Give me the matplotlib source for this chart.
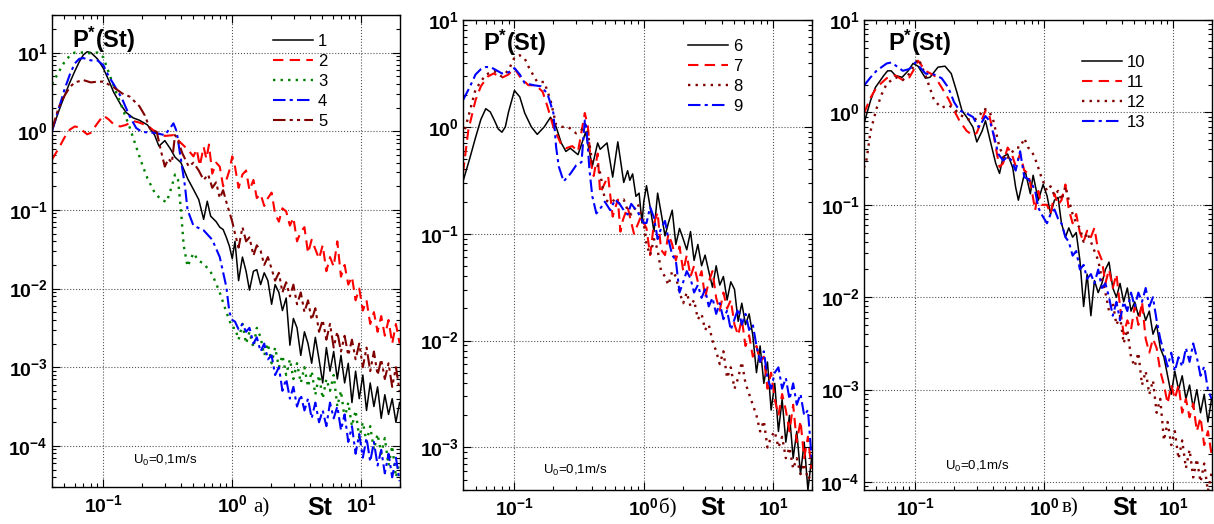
import numpy as np
import matplotlib
matplotlib.use('Agg')
import matplotlib.pyplot as plt
from matplotlib.ticker import LogLocator, NullFormatter

plt.rcParams['font.family'] = ['Liberation Sans', 'DejaVu Sans']
plt.rcParams['mathtext.fontset'] = 'custom'
plt.rcParams['mathtext.rm'] = 'Liberation Sans'
plt.rcParams['mathtext.bf'] = 'Liberation Sans:bold'
plt.rcParams['mathtext.it'] = 'Liberation Sans:italic'

# ---- data: St values and log10(P*) ----
# shared St grid for the noisy high-frequency part
st_hi = [1.05, 1.12, 1.2, 1.28, 1.36, 1.46, 1.55, 1.66, 1.77, 1.89, 2.02, 2.15, 2.3, 2.45, 2.62,
         2.8, 2.98, 3.18, 3.4, 3.63, 3.87, 4.13, 4.41, 4.71, 5.03, 5.37, 5.73, 6.12, 6.53, 6.97,
         7.44, 7.94, 8.48, 9.05, 9.66, 10.3, 11.0, 11.75, 12.55, 13.4, 14.3, 15.25, 16.3, 17.4,
         18.6, 19.85]

# panel a
c1_st_lo = [0.04, 0.045, 0.05, 0.055, 0.06, 0.065, 0.07, 0.075, 0.08, 0.09, 0.1, 0.11, 0.12, 0.135, 0.15,
            0.17, 0.19, 0.22, 0.25, 0.27, 0.3, 0.33, 0.36, 0.4, 0.45, 0.5, 0.55, 0.6, 0.64, 0.68, 0.75,
            0.8, 0.85, 0.9, 0.95, 1.0]
c1_lg_lo = [0.0, 0.25, 0.45, 0.62, 0.76, 0.88, 0.97, 1.01, 1.0, 0.92, 0.8, 0.65, 0.5, 0.35, 0.24,
            0.17, 0.14, 0.08, -0.05, -0.19, -0.12, -0.22, -0.33, -0.40, -0.6, -0.74, -0.87, -1.12, -0.89, -1.08, -1.15,
            -1.22, -1.25, -1.35, -1.46, -1.62]
c1_lg_hi = [-1.40, -1.90, -1.60, -1.78, -2.02, -1.78, -1.76, -1.95, -1.80, -1.90,
            -2.20, -1.95, -2.05, -2.28, -2.12, -2.72, -2.38, -2.50, -2.85, -2.55,
            -2.70, -2.95, -2.62, -2.90, -3.20, -2.75, -3.05, -2.80, -3.15, -2.85,
            -3.20, -2.95, -3.45, -3.05, -3.40, -3.10, -3.55, -3.20, -3.50, -3.25,
            -3.65, -3.35, -3.60, -3.40, -3.70, -3.45]

c2_st_lo = [0.04, 0.045, 0.05, 0.055, 0.06, 0.065, 0.07, 0.075, 0.08, 0.09, 0.1, 0.11, 0.12, 0.135, 0.15,
            0.17, 0.19, 0.22, 0.25, 0.28, 0.3, 0.35, 0.4, 0.45, 0.5, 0.53, 0.56, 0.6, 0.63, 0.66, 0.7,
            0.75, 0.8, 0.85, 0.9, 0.95, 1.0]
c2_lg_lo = [-0.36, -0.22, -0.08, 0.02, 0.06, 0.05, 0.0, -0.04, -0.02, 0.1, 0.2, 0.15, 0.09, 0.06, 0.08,
            0.13, 0.11, 0.07, 0.0, -0.04, -0.06, -0.05, -0.15, -0.23, -0.32, -0.23, -0.44, -0.2, -0.35, -0.17, -0.54,
            -0.4, -0.45, -0.7, -0.62, -0.5, -0.32]
c2_lg_hi = [-0.45, -0.72, -0.55, -0.50, -0.75, -0.62, -0.85, -0.80, -0.95, -0.85,
            -0.78, -1.05, -1.15, -0.98, -1.02, -1.20, -1.10, -1.40, -1.28, -1.22,
            -1.55, -1.38, -1.50, -1.62, -1.45, -1.78, -1.60, -1.72, -1.40, -1.85,
            -1.70, -1.95, -1.85, -2.15, -2.00, -2.28, -2.15, -2.45, -2.30, -2.55,
            -2.35, -2.60, -2.40, -2.70, -2.45, -2.70]

c3_st_lo = [0.04, 0.045, 0.05, 0.055, 0.06, 0.07, 0.08, 0.09, 0.1, 0.11, 0.12, 0.14, 0.16, 0.18, 0.2,
            0.22, 0.25, 0.28, 0.31, 0.34, 0.36, 0.38, 0.4, 0.42, 0.45, 0.5, 0.55, 0.6, 0.7, 0.8, 0.9, 1.0]
c3_lg_lo = [0.6, 0.75, 0.88, 0.96, 1.0, 1.0, 0.99, 1.0, 0.94, 0.75, 0.58, 0.3, 0.05, -0.2, -0.42,
            -0.6, -0.78, -0.87, -0.9, -0.7, -0.55, -0.62, -1.0, -1.45, -1.72, -1.55, -1.65, -1.68, -1.82, -2.05, -2.3, -2.5]
c3_lg_hi = [-2.50, -2.65, -2.45, -2.70, -2.55, -2.75, -2.50, -2.62, -2.85, -2.70,
            -2.95, -2.75, -3.00, -2.85, -3.10, -2.90, -3.15, -2.95, -3.20, -3.00,
            -3.25, -3.05, -3.35, -3.10, -3.40, -3.15, -3.30, -3.10, -3.50, -3.30,
            -3.65, -3.45, -3.75, -3.55, -3.90, -3.70, -3.95, -3.75, -4.05, -3.85,
            -4.10, -3.90, -4.25, -4.00, -4.40, -4.20]

c4_st_lo = [0.04, 0.045, 0.05, 0.055, 0.06, 0.065, 0.07, 0.08, 0.09, 0.1, 0.11, 0.12, 0.14, 0.16, 0.18,
            0.2, 0.25, 0.3, 0.33, 0.35, 0.37, 0.4, 0.43, 0.45, 0.5, 0.6, 0.7, 0.8, 0.9, 0.95, 1.0]
c4_lg_lo = [0.0, 0.28, 0.53, 0.72, 0.86, 0.92, 0.93, 0.9, 0.9, 0.84, 0.7, 0.6, 0.41, 0.19, 0.04,
            -0.01, -0.02, -0.05, 0.04, 0.1, 0.0, -0.36, -0.7, -1.0, -1.2, -1.26, -1.38, -1.6, -1.98, -2.3, -2.4]
c4_lg_hi = [-2.42, -2.52, -2.45, -2.55, -2.50, -2.70, -2.62, -2.80, -2.70, -2.90,
            -2.85, -3.10, -3.00, -3.30, -3.15, -3.40, -3.25, -3.50, -3.35, -3.55,
            -3.40, -3.65, -3.45, -3.70, -3.55, -3.75, -3.45, -3.65, -3.50, -3.80,
            -3.60, -3.95, -3.75, -4.10, -3.85, -4.15, -3.90, -4.20, -3.95, -4.25,
            -4.05, -4.35, -4.10, -4.40, -4.15, -4.45]

c5_st_lo = [0.04, 0.045, 0.05, 0.055, 0.06, 0.07, 0.08, 0.09, 0.1, 0.12, 0.14, 0.16, 0.19, 0.21, 0.23,
            0.26, 0.28, 0.3, 0.32, 0.34, 0.36, 0.38, 0.41, 0.46, 0.5, 0.55, 0.6, 0.65, 0.7, 0.75, 0.8,
            0.85, 0.9, 1.0]
c5_lg_lo = [0.02, 0.3, 0.45, 0.56, 0.62, 0.65, 0.62, 0.63, 0.63, 0.56, 0.48, 0.44, 0.32, 0.2, 0.03,
            -0.01, -0.25, -0.45, -0.35, -0.4, -0.05, -0.12, -0.28, -0.45, -0.4, -0.5, -0.62, -0.55, -0.72, -0.65, -0.85,
            -0.75, -0.9, -1.15]
c5_lg_hi = [-1.30, -1.48, -1.22, -1.40, -1.35, -1.58, -1.45, -1.52, -1.70, -1.60,
            -1.75, -1.90, -1.80, -2.05, -1.92, -2.10, -1.95, -2.20, -2.05, -2.30,
            -2.15, -2.40, -2.25, -2.55, -2.40, -2.65, -2.45, -2.75, -2.55, -2.80,
            -2.60, -2.85, -2.65, -2.90, -2.70, -3.00, -2.75, -3.05, -2.80, -3.10,
            -2.90, -3.15, -2.95, -3.25, -3.00, -3.30]

# panel b
c6_st_lo = [0.04, 0.045, 0.05, 0.055, 0.06, 0.065, 0.07, 0.075, 0.08, 0.085, 0.09, 0.1, 0.11, 0.12, 0.135,
            0.15, 0.17, 0.19, 0.21, 0.23, 0.25, 0.27, 0.31, 0.355, 0.4, 0.44, 0.46, 0.52, 0.575, 0.63, 0.7,
            0.75, 0.78, 0.82, 0.87, 0.92, 0.97, 1.0]
c6_lg_lo = [-0.51, -0.3, -0.1, 0.07, 0.17, 0.14, 0.06, -0.02, -0.05, 0.0, 0.14, 0.34, 0.28, 0.13, 0.0,
            -0.07, 0.0, 0.09, 0.0, -0.15, -0.23, -0.2, -0.26, -0.05, -0.37, -0.15, -0.21, -0.15, -0.47, -0.14, -0.52,
            -0.41, -0.5, -0.44, -0.65, -0.62, -0.9, -0.7]
c6_lg_hi = [-0.55, -0.75, -0.98, -0.62, -0.80, -1.02, -0.90, -0.78, -1.10, -0.95,
            -1.05, -1.15, -0.98, -1.25, -1.10, -1.30, -1.20, -1.35, -1.50, -1.30,
            -1.48, -1.40, -1.62, -1.45, -1.52, -1.82, -1.65, -1.85, -1.75, -1.95,
            -2.30, -2.05, -2.40, -2.20, -2.65, -2.40, -2.85, -2.55, -2.95, -2.70,
            -3.10, -2.85, -3.25, -2.95, -3.40, -3.10]

c7_st_lo = [0.04, 0.044, 0.05, 0.055, 0.062, 0.069, 0.08, 0.09, 0.1, 0.11, 0.128, 0.146, 0.165, 0.18, 0.2,
            0.227, 0.25, 0.28, 0.31, 0.35, 0.37, 0.39, 0.41, 0.44, 0.46, 0.53, 0.575, 0.63, 0.66, 0.69, 0.75,
            0.84, 0.95, 1.0]
c7_lg_lo = [-0.43, -0.03, 0.25, 0.38, 0.47, 0.5, 0.46, 0.49, 0.55, 0.47, 0.39, 0.39, 0.33, 0.19, 0.0,
            -0.15, -0.2, -0.18, -0.23, 0.13, 0.0, -0.34, -0.46, -0.25, -0.62, -0.46, -0.84, -0.68, -0.98, -0.87, -0.75,
            -1.0, -0.84, -0.9]
c7_lg_hi = [-0.95, -1.20, -0.90, -0.80, -1.15, -1.20, -1.00, -1.10, -1.25, -1.12,
            -1.35, -1.20, -1.40, -1.30, -1.45, -1.35, -1.60, -1.45, -1.35, -1.60,
            -1.72, -1.55, -1.70, -1.62, -1.85, -1.95, -1.80, -2.05, -1.95, -2.15,
            -2.05, -2.20, -2.15, -2.45, -2.30, -2.55, -2.70, -2.50, -2.65, -2.85,
            -2.60, -2.95, -2.75, -3.10, -2.90, -3.20]

c8_st_lo = [0.04, 0.045, 0.05, 0.06, 0.07, 0.08, 0.09, 0.1, 0.11, 0.12, 0.13, 0.15, 0.17, 0.19, 0.21,
            0.23, 0.26, 0.3, 0.33, 0.35, 0.37, 0.4, 0.45, 0.5, 0.55, 0.6, 0.65, 0.7, 0.75, 0.8, 0.9, 1.0]
c8_lg_lo = [-0.09, 0.14, 0.35, 0.49, 0.52, 0.47, 0.53, 0.65, 0.67, 0.64, 0.55, 0.42, 0.42, 0.25, 0.02,
            0.0, 0.0, -0.06, -0.03, 0.03, -0.06, -0.34, -0.37, -0.68, -0.71, -0.68, -0.72, -0.68, -0.78, -0.82, -0.72, -0.9]
c8_lg_hi = [-1.10, -1.20, -1.05, -1.15, -1.35, -1.40, -1.48, -1.35, -1.40, -1.55,
            -1.65, -1.55, -1.68, -1.62, -1.80, -1.75, -1.90, -1.85, -2.00, -2.10,
            -2.22, -2.10, -2.35, -2.25, -2.45, -2.35, -2.20, -2.40, -2.50, -2.60,
            -2.70, -2.85, -2.75, -3.00, -2.90, -2.85, -3.00, -2.90, -3.10, -3.00,
            -3.20, -3.10, -3.25, -3.15, -3.30, -3.25]

c9_st_lo = [0.04, 0.045, 0.05, 0.055, 0.06, 0.065, 0.07, 0.08, 0.09, 0.1, 0.11, 0.12, 0.14, 0.16, 0.18,
            0.2, 0.21, 0.22, 0.24, 0.27, 0.3, 0.33, 0.35, 0.36, 0.38, 0.4, 0.43, 0.47, 0.5, 0.55, 0.6,
            0.65, 0.7, 0.75, 0.8, 0.9, 1.0]
c9_lg_lo = [0.25, 0.37, 0.49, 0.54, 0.56, 0.56, 0.54, 0.5, 0.51, 0.55, 0.49, 0.41, 0.39, 0.38, 0.31,
            0.13, -0.19, -0.37, -0.51, -0.44, -0.36, -0.33, 0.06, 0.0, -0.4, -0.65, -0.81, -0.75, -0.7, -0.78, -0.68,
            -0.72, -0.78, -0.82, -0.72, -0.8, -0.9]
c9_lg_hi = [-0.90, -0.75, -0.85, -1.05, -0.95, -0.88, -1.05, -1.20, -1.25, -1.55,
            -1.45, -1.35, -1.42, -1.55, -1.48, -1.60, -1.52, -1.68, -1.60, -1.75,
            -1.65, -1.80, -1.72, -1.90, -1.80, -1.70, -1.85, -1.75, -1.90, -1.85,
            -2.05, -2.20, -2.10, -2.35, -2.45, -2.30, -2.25, -2.45, -2.35, -2.55,
            -2.40, -2.60, -2.50, -2.70, -2.65, -3.10]

# panel c
c10_st_lo = [0.04, 0.045, 0.049, 0.057, 0.061, 0.065, 0.07, 0.079, 0.088, 0.096, 0.105, 0.12, 0.13, 0.15, 0.17,
             0.19, 0.21, 0.23, 0.25, 0.28, 0.3, 0.33, 0.35, 0.38, 0.42, 0.45, 0.48, 0.52, 0.57, 0.6, 0.63,
             0.71, 0.78, 0.82, 0.9, 0.98]
c10_lg_lo = [-0.12, 0.13, 0.27, 0.4, 0.45, 0.45, 0.4, 0.38, 0.45, 0.53, 0.5, 0.37, 0.38, 0.49, 0.5,
             0.42, 0.22, 0.02, -0.05, -0.16, -0.32, -0.2, -0.09, -0.3, -0.55, -0.66, -0.48, -0.45, -0.6, -0.81, -0.95,
             -0.63, -0.88, -0.68, -0.95, -0.78]
c10_lg_hi = [-0.90, -1.10, -0.95, -0.92, -1.20, -1.35, -1.25, -1.35, -1.30, -1.60,
             -2.10, -1.75, -2.20, -1.82, -1.95, -1.85, -1.70, -1.62, -1.90, -2.00,
             -1.85, -2.05, -1.90, -2.15, -2.05, -2.20, -2.10, -2.25, -2.15, -2.40,
             -2.30, -2.55, -2.65, -2.85, -3.05, -2.80, -3.00, -2.85, -3.10, -2.95,
             -3.20, -3.00, -3.25, -3.05, -3.35, -3.10]

c11_st_lo = [0.04, 0.045, 0.05, 0.06, 0.07, 0.08, 0.09, 0.1, 0.105, 0.12, 0.14, 0.16, 0.18, 0.2, 0.22,
             0.25, 0.28, 0.3, 0.33, 0.35, 0.37, 0.4, 0.43, 0.45, 0.48, 0.52, 0.56, 0.6, 0.65, 0.7, 0.75,
             0.8, 0.85, 0.9, 0.95]
c11_lg_lo = [-0.01, 0.16, 0.27, 0.37, 0.4, 0.35, 0.38, 0.49, 0.56, 0.45, 0.4, 0.27, 0.15, 0.02, -0.09,
             -0.2, -0.25, -0.22, -0.07, 0.02, 0.0, -0.2, -0.45, -0.59, -0.55, -0.38, -0.45, -0.58, -0.45, -0.63, -0.66,
             -0.84, -1.06, -0.85, -1.0]
c11_lg_hi = [-1.00, -1.10, -0.88, -1.00, -0.95, -0.78, -1.05, -1.20, -1.10, -1.30,
             -1.40, -1.28, -1.35, -1.25, -1.50, -1.60, -1.85, -1.70, -1.90, -1.75,
             -2.10, -2.40, -2.25, -2.35, -2.10, -2.30, -2.05, -2.45, -2.60, -2.45,
             -2.55, -2.80, -2.95, -3.15, -2.95, -3.10, -2.95, -3.25, -3.10, -3.30,
             -3.15, -3.45, -3.30, -3.60, -3.45, -3.70]

c12_st_lo = [0.04, 0.042, 0.045, 0.05, 0.055, 0.06, 0.07, 0.08, 0.09, 0.1, 0.105, 0.11, 0.12, 0.13, 0.14,
             0.16, 0.18, 0.2, 0.22, 0.25, 0.28, 0.31, 0.34, 0.37, 0.4, 0.45, 0.5, 0.55, 0.6, 0.65, 0.7,
             0.75, 0.8, 0.85, 0.9, 0.95]
c12_lg_lo = [-0.6, -0.5, -0.2, 0.04, 0.2, 0.31, 0.38, 0.35, 0.42, 0.53, 0.58, 0.53, 0.4, 0.26, 0.13,
             0.05, 0.08, 0.04, -0.02, -0.07, -0.09, -0.05, 0.04, 0.02, -0.07, -0.38, -0.52, -0.45, -0.38, -0.38, -0.28,
             -0.38, -0.42, -0.5, -0.6, -0.7]
c12_lg_hi = [-0.85, -0.80, -0.90, -0.85, -0.95, -0.80, -0.95, -1.10, -1.20, -1.25,
             -1.40, -1.30, -1.40, -1.50, -1.60, -1.80, -1.95, -2.15, -2.05, -2.30,
             -2.20, -2.50, -2.35, -2.65, -2.75, -2.60, -2.95, -2.80, -3.05, -2.90,
             -3.25, -3.10, -3.55, -3.35, -3.60, -3.45, -3.75, -3.55, -3.85, -3.65,
             -3.95, -3.75, -4.00, -3.80, -4.10, -3.90]

c13_st_lo = [0.04, 0.045, 0.05, 0.06, 0.065, 0.07, 0.08, 0.09, 0.1, 0.11, 0.12, 0.14, 0.16, 0.18, 0.2,
             0.22, 0.25, 0.28, 0.31, 0.33, 0.35, 0.38, 0.41, 0.44, 0.48, 0.52, 0.56, 0.6, 0.65, 0.7, 0.75,
             0.8, 0.85, 0.9, 0.95]
c13_lg_lo = [0.29, 0.38, 0.45, 0.53, 0.54, 0.51, 0.45, 0.47, 0.54, 0.48, 0.42, 0.41, 0.37, 0.27, 0.11,
             0.02, -0.01, -0.05, -0.16, -0.1, -0.04, -0.1, -0.27, -0.45, -0.52, -0.48, -0.52, -0.63, -0.42, -0.7, -0.72,
             -0.77, -0.85, -1.03, -1.1]
c13_lg_hi = [-1.20, -1.10, -1.05, -1.15, -1.20, -1.35, -1.40, -1.55, -1.50, -1.70,
             -1.65, -1.80, -1.75, -1.85, -1.70, -1.90, -1.85, -2.00, -2.20, -2.05,
             -2.25, -2.05, -2.15, -1.95, -2.10, -1.95, -2.05, -1.90, -2.10, -2.00,
             -2.25, -2.45, -2.60, -2.75, -2.60, -2.80, -2.65, -2.75, -2.55, -2.70,
             -2.50, -2.65, -2.85, -2.75, -3.00, -3.10]

# ---- styles ----
BLACK = ('k', '-', 1.1)
RED = ('#ff0000', (0, (5, 3)), 1.5)
GREEN = ('#008000', (0, (1, 2.2)), 1.7)
BLUE = ('#0000ff', (0, (6, 2, 1.5, 2)), 1.5)
DRED = ('#800000', (0, (6, 2, 1.5, 2, 1.5, 2)), 1.5)
DRED_DOT = ('#800000', (0, (1, 2.2)), 1.7)

panels = [
    dict(rect=[52, 15, 400, 487], ylim=(3.0e-5, 30), decades=[-4, -3, -2, -1, 0, 1],
         curves=[('1', c1_st_lo, c1_lg_lo, c1_lg_hi, BLACK),
                 ('2', c2_st_lo, c2_lg_lo, c2_lg_hi, RED),
                 ('3', c3_st_lo, c3_lg_lo, c3_lg_hi, GREEN),
                 ('4', c4_st_lo, c4_lg_lo, c4_lg_hi, BLUE),
                 ('5', c5_st_lo, c5_lg_lo, c5_lg_hi, DRED)],
         leg=(273, 34), title=(72, 40), u0=(133, 460), tag='a)', tag_x=253, st_x=307),
    dict(rect=[463, 20, 812, 490], ylim=(4.0e-4, 10), decades=[-3, -2, -1, 0, 1],
         curves=[('6', c6_st_lo, c6_lg_lo, c6_lg_hi, BLACK),
                 ('7', c7_st_lo, c7_lg_lo, c7_lg_hi, RED),
                 ('8', c8_st_lo, c8_lg_lo, c8_lg_hi, DRED_DOT),
                 ('9', c9_st_lo, c9_lg_lo, c9_lg_hi, BLUE)],
         leg=(688, 39), title=(483, 43), u0=(543, 470), tag='б)', tag_x=659, st_x=700),
    dict(rect=[864, 20, 1212, 490], ylim=(8.2e-5, 10), decades=[-4, -3, -2, -1, 0, 1],
         curves=[('10', c10_st_lo, c10_lg_lo, c10_lg_hi, BLACK),
                 ('11', c11_st_lo, c11_lg_lo, c11_lg_hi, RED),
                 ('12', c12_st_lo, c12_lg_lo, c12_lg_hi, DRED_DOT),
                 ('13', c13_st_lo, c13_lg_lo, c13_lg_hi, BLUE)],
         leg=(1082, 55), title=(888, 43), u0=(945, 466), tag='в)', tag_x=1062, st_x=1112),
]

W, H = 1214, 524
fig = plt.figure(figsize=(W / 100, H / 100), dpi=100)


def fx(px):
    return px / W


def fy(py):
    return 1 - py / H


for p in panels:
    l, t, r, b = p['rect']
    ax = fig.add_axes([fx(l), fy(b), (r - l) / W, (b - t) / H])
    for lab, st_lo, lg_lo, lg_hi, (col, ls, lw) in p['curves']:
        st = np.array(st_lo + st_hi)
        pp = 10.0 ** np.array(lg_lo + lg_hi)
        ax.plot(st, pp, color=col, linestyle=ls, linewidth=lw, label=lab)

    ax.set_xscale('log')
    ax.set_yscale('log')
    ax.set_xlim(0.04, 20)
    ax.set_ylim(*p['ylim'])
    ax.set_xticks([0.1, 1, 10], [r'$\mathbf{10^{-1}}$', r'$\mathbf{10^{0}}$', r'$\mathbf{10^{1}}$'])
    ax.set_yticks([10.0 ** d for d in p['decades']],
                  [r'$\mathbf{10^{%d}}$' % d for d in p['decades']])
    ax.xaxis.set_minor_locator(LogLocator(base=10, subs=np.arange(2, 10) * 1.0, numticks=30))
    ax.yaxis.set_minor_locator(LogLocator(base=10, subs=np.arange(2, 10) * 1.0, numticks=30))
    ax.xaxis.set_minor_formatter(NullFormatter())
    ax.yaxis.set_minor_formatter(NullFormatter())
    ax.tick_params(which='both', direction='in', top=True, right=True, width=0.8)
    ax.tick_params(which='major', length=6, labelsize=14)
    ax.tick_params(which='minor', length=3)
    ax.tick_params(axis='x', pad=5)
    ax.tick_params(axis='y', pad=3)
    ax.grid(True, which='major', linestyle=':', color='#555555', linewidth=0.8)
    for s in ax.spines.values():
        s.set_linewidth(1.0)

    lx, ly = p['leg']
    ax.legend(loc='upper left', bbox_to_anchor=((lx - l) / (r - l), 1 - (ly - t) / (b - t)),
              frameon=False, fontsize=12, handlelength=2.4, handletextpad=0.3,
              labelspacing=0.3, borderpad=0, borderaxespad=0)

    tx, ty = p['title']
    fig.text(fx(tx), fy(ty), r'P$^{\mathbf{*}}$(St)', fontsize=17, fontweight='bold',
             va='center', ha='left')
    ux, uy = p['u0']
    fig.text(fx(ux), fy(uy), r'U$_0$=0,1m/s', fontsize=9.5, va='center', ha='left')
    fig.text(fx(p['tag_x']), fy(508), p['tag'], fontsize=15, family=['Liberation Serif', 'DejaVu Serif'],
             va='center', ha='left')
    fig.text(fx(p['st_x']), fy(508), 'St', fontsize=18, fontweight='bold', va='center', ha='left')

fig.savefig('out.png', dpi=100)
